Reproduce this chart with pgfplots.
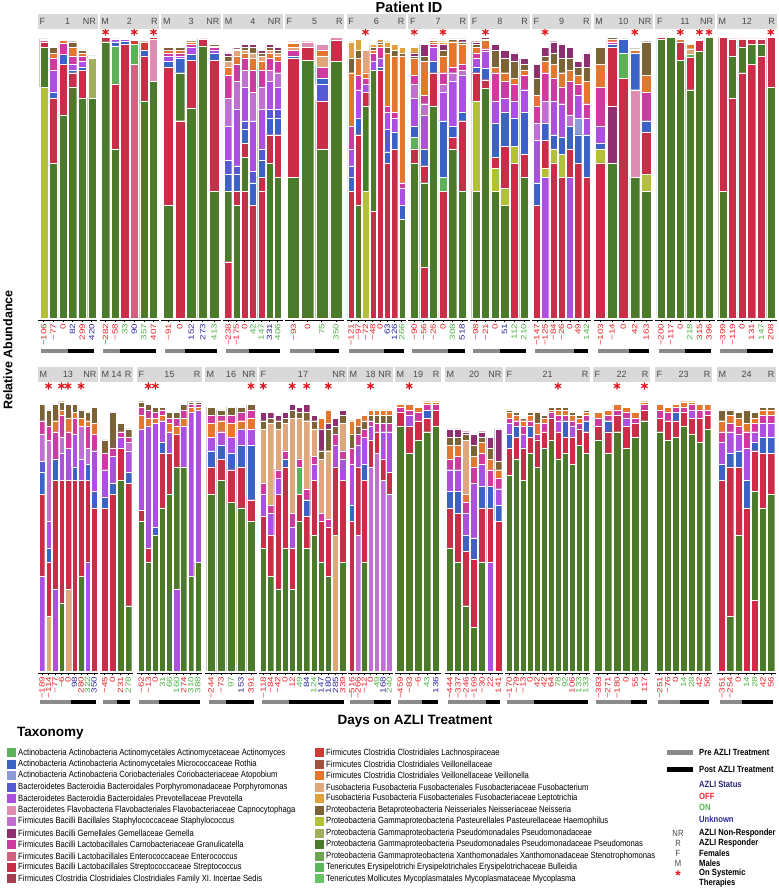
\documentclass[border=0pt]{standalone}
\usepackage{fontspec}
\setmainfont{Liberation Sans}
\newfontfamily\condfam{Liberation Sans}[FakeStretch=0.85]
\newfontfamily\dayfam{Liberation Sans}[FakeStretch=1.3]
\usepackage{pgfplots}
\usepackage{pgfplotstable}
\pgfplotsset{compat=1.18}

\definecolor{cAC}{HTML}{5FB05A}\definecolor{cRO}{HTML}{3B62C4}\definecolor{cAT}{HTML}{8D9AD8}
\definecolor{cPO}{HTML}{5658D4}\definecolor{cPR}{HTML}{AD4FE0}\definecolor{cCA}{HTML}{E08DB4}
\definecolor{cSA}{HTML}{C070D0}\definecolor{cGE}{HTML}{8E2F70}\definecolor{cGR}{HTML}{CF3AA0}
\definecolor{cEN}{HTML}{D0627F}\definecolor{cST}{HTML}{C92D48}\definecolor{cFX}{HTML}{A43E4E}
\definecolor{cLA}{HTML}{CF3A36}\definecolor{cVL}{HTML}{A4503E}\definecolor{cVE}{HTML}{E5762E}
\definecolor{cFU}{HTML}{E0A67C}\definecolor{cLE}{HTML}{E0A03C}\definecolor{cNE}{HTML}{7C6337}
\definecolor{cHA}{HTML}{B4BF3A}\definecolor{cPD}{HTML}{A2B05E}\definecolor{cPS}{HTML}{4B7A2A}
\definecolor{cSM}{HTML}{6CA452}\definecolor{cBU}{HTML}{5CB85C}\definecolor{cMY}{HTML}{66C466}
\colorlet{cST1}{cST}\colorlet{cPR1}{cPR}\colorlet{cSA1}{cSA}\colorlet{cFU1}{cFU}
\colorlet{cPK}{cEN}\colorlet{cHA2}{cHA}\colorlet{cGE1}{cGE}\colorlet{cG2}{cAC}
\definecolor{offc}{HTML}{E8262B}\definecolor{onc}{HTML}{52B448}\definecolor{unkc}{HTML}{2E2A9C}
\definecolor{starc}{HTML}{E0161E}\definecolor{prec}{HTML}{8A8A8A}\definecolor{stripc}{HTML}{D9D9D9}
\definecolor{stripfg}{HTML}{4A4A4A}\definecolor{navy}{HTML}{272770}

\newcommand\oF[1]{\textcolor{offc}{#1}}
\newcommand\oN[1]{\textcolor{onc}{#1}}
\newcommand\uK[1]{\textcolor{unkc}{#1}}
\newcommand\dayfont{\dayfam\fontsize{7.6}{8}\selectfont}
\newcommand\ytfont{\bfseries\fontsize{10}{11}\selectfont}
\newcommand\lgt{\condfam\fontsize{9}{10}\selectfont}
\newcommand\lgb{\condfam\bfseries\fontsize{9}{10}\selectfont}

\pgfplotsset{
 T/.style={at={(#1,570pt)},ymin=-0.007,ymax=1.025},
 B/.style={at={(#1,217pt)},ymin=-0.0074,ymax=1.0625},
 base/.style={anchor=south west,scale only axis,height=291pt},
 bars/.style={base,ybar stacked,bar width=0.86,axis x line*=bottom,axis y line=none,
   x axis line style={line width=0.9pt},tick align=outside,major tick length=2.5pt,
   tick style={black,line width=0.6pt},ytick=\empty,
   xticklabel style={rotate=90,anchor=east,font=\dayfont,inner sep=1pt},
   every axis plot/.append style={draw=white,line width=0.2pt}},
 ylab/.style={axis y line*=left,y axis line style={line width=0.9pt},ytick={0,0.25,0.5,0.75,1},
   yticklabels={0.00,0.25,0.50,0.75,1.00},yticklabel style={font=\ytfont,inner sep=1.5pt}},
 deco/.style={base,hide axis,clip=false},
 preline/.style={draw=prec,line width=4.5pt},
 postline/.style={draw=black,line width=4.5pt},
 starm/.style={only marks,mark=asterisk,mark size=3.6pt,color=starc,line width=1.2pt},
}

\newcommand\panel[8]{%
\begin{axis}[bars,#1=#2pt,width=#3pt,xmin=0.4,xmax=#4.6,xtick={1,...,#4},xticklabels={#7},#8]
\pgfplotsinvokeforeach{#6}{\addplot[fill=c##1] table[x=x,y=##1]{#5};}
\end{axis}}
\newcommand\deco[7]{%
\begin{axis}[deco,#1=#2pt,width=#3pt,xmin=0.4,xmax=#4.6]
\addplot[preline] coordinates {(0.75,#6) (#5,#6)};
\addplot[postline] coordinates {(#5,#6) (#4.25,#6)};
#7
\end{axis}}
\tikzset{stript/.style={inner sep=0pt,text=stripfg,font=\fontsize{9}{10}\selectfont}}
\newcommand\strip[6]{%
\fill[stripc] (#1pt,#3pt) rectangle ++(#2pt,15pt);
\node[stript,anchor=west] at ({#1pt+1.5pt},{#3pt+7.5pt}) {#4};
\node[stript] at ({#1pt+0.5*#2pt},{#3pt+7.5pt}) {#5};
\node[stript,anchor=east] at ({#1pt+#2pt-1.5pt},{#3pt+7.5pt}) {#6};}

% ---------------- data (relative abundance, stacked bottom to top) ----------------
\pgfplotstableread{
x HA PS ST PD RO PR GR VE NE
1 0.82 0.14 0.02 0 0 0 0.005 0 0.005
2 0 0.55 0.23 0 0.02 0.08 0.04 0.02 0.02
3 0 0.72 0.18 0 0.035 0 0.04 0.01 0
4 0 0.82 0.05 0 0.01 0.02 0.03 0.03 0.02
5 0 0.78 0.10 0 0.01 0.02 0.02 0.01 0.01
6 0 0.78 0 0.14 0 0 0 0.005 0.005
}\tA
\pgfplotstableread{
x PK ST1 PS ST G2 CA RO PR LA
1 0 0 0.98 0.015 0 0 0 0 0
2 0 0 0.60 0.23 0.135 0 0.015 0.01 0
3 0 0.97 0 0 0 0 0.012 0.006 0
4 0.90 0 0 0 0.07 0 0 0 0.015
5 0 0 0.77 0.16 0 0 0.02 0 0.03
6 0 0 0.84 0 0 0.15 0 0 0.005
}\tB
\pgfplotstableread{
x ST1 PS ST RO PR GR VE NE
1 0 0.40 0.49 0.02 0.02 0.01 0.01 0.01
2 0.70 0.17 0 0.05 0.01 0.01 0.01 0.01
3 0 0.745 0.17 0.02 0.025 0.01 0.01 0.005
4 0 0.965 0.025 0 0 0 0 0
5 0 0.45 0.465 0.025 0.01 0.01 0.005 0.005
}\tC
\pgfplotstableread{
x ST1 PS ST RO PO PR SA GR VE FU NE GE
1 0.20 0.25 0 0.06 0.05 0.12 0.10 0.08 0.03 0.02 0.02 0.01
2 0 0.40 0.05 0.06 0.03 0.20 0.10 0.06 0.03 0.02 0.005 0.005
3 0.45 0.12 0.05 0.05 0.03 0.12 0.06 0.04 0.02 0.01 0.01 0.01
4 0.40 0 0 0.08 0.04 0.18 0.10 0.08 0.04 0.02 0.02 0.01
5 0.45 0 0.05 0.06 0.04 0.14 0.08 0.06 0.03 0.02 0.01 0.01
6 0 0.55 0.10 0.06 0.03 0.10 0.04 0.04 0.02 0.01 0.01 0.01
7 0 0.50 0.15 0.06 0.03 0.08 0.05 0.04 0.02 0.01 0.01 0.01
}\tD
\pgfplotstableread{
x PS ST PO RO GR FU VE CA
1 0.50 0.42 0 0.01 0.02 0.01 0.015 0.005
2 0.915 0.045 0 0 0 0 0 0.02
3 0.60 0.17 0.06 0.02 0.04 0.04 0.02 0.02
4 0.91 0.075 0 0 0 0 0 0.01
}\tE
\pgfplotstableread{
x HA ST1 PS ST RO PO PR GR VE FU NE LE
1 0 0.45 0 0 0.05 0.04 0.06 0.08 0.19 0 0.05 0.06
2 0 0 0.40 0.25 0.06 0 0.10 0.05 0.06 0 0.03 0.04
3 0.45 0 0.30 0.05 0 0 0.03 0.02 0.02 0.08 0 0
4 0 0.38 0.50 0 0 0 0.03 0.03 0.01 0 0.01 0.01
5 0 0.88 0 0 0.01 0 0.03 0.04 0.01 0 0.01 0.01
6 0 0.55 0 0 0.04 0.08 0.06 0.02 0.19 0 0.02 0.02
7 0 0.60 0 0 0.06 0 0.05 0.02 0.20 0 0.02 0.02
8 0 0 0.35 0 0.05 0 0.06 0.02 0.45 0 0.01 0.02
}\tF
\pgfplotstableread{
x ST1 PS ST G2 RO PR SA GR VE NE GE LE
1 0 0.55 0.05 0.04 0.04 0.10 0.05 0.03 0.06 0.01 0.01 0.02
2 0.18 0.30 0.06 0 0.06 0.12 0.04 0.03 0.12 0.02 0.04 0
3 0 0.75 0.12 0 0.04 0.05 0 0.01 0.01 0.005 0.005 0
4 0.45 0 0 0.05 0.20 0.10 0.03 0.04 0.06 0.02 0.02 0.01
5 0 0.60 0.04 0 0.04 0.16 0.03 0.02 0.09 0.01 0 0
6 0 0.45 0.25 0 0.03 0.13 0.02 0.02 0.07 0.01 0.01 0
}\tG
\pgfplotstableread{
x ST1 PS HA2 ST RO PR GR VE NE GE
1 0 0.45 0.32 0.10 0.02 0.03 0.02 0.02 0.01 0.01
2 0 0.815 0 0.03 0.04 0.06 0.01 0.03 0.005 0.005
3 0 0.45 0.08 0.04 0.12 0.08 0.10 0.02 0.06 0.02
4 0 0.40 0.06 0.15 0.12 0.05 0.06 0.03 0.05 0.03
5 0.55 0 0.06 0 0.10 0.06 0.06 0.02 0.06 0.03
6 0 0.50 0 0.08 0.15 0.08 0.05 0.02 0.02 0.02
}\tH
\pgfplotstableread{
x ST1 PR1 HA2 ST RO AT PR SA GR VE NE GE
1 0.40 0 0 0 0.08 0 0.15 0.06 0.06 0.04 0.06 0.05
2 0 0.50 0.03 0.10 0.06 0 0 0.08 0.10 0.04 0.02 0.03
3 0.55 0 0.05 0 0.05 0 0.12 0 0.08 0.05 0.04 0.04
4 0.50 0 0.08 0 0.06 0 0.12 0 0.06 0.05 0.05 0.05
5 0 0.50 0 0.10 0.08 0 0 0.04 0.12 0.04 0.04 0.04
6 0.55 0 0 0 0.10 0.06 0.08 0 0.04 0.03 0.03 0.02
7 0.50 0 0 0 0.15 0 0.06 0 0.05 0.08 0.05 0.05
}\tI
\pgfplotstableread{
x ST1 PS HA2 GE1 ST G2 CA RO PR GR VE NE
1 0.55 0 0.05 0 0 0 0 0.02 0.06 0.14 0.08 0.06
2 0 0.55 0 0.20 0.21 0 0 0.01 0 0.01 0.01 0.005
3 0.85 0 0 0 0 0.09 0 0.05 0 0 0 0
4 0 0.50 0 0 0 0 0.31 0.13 0 0 0.01 0.005
5 0 0.45 0.06 0 0.15 0 0 0.04 0 0.10 0.06 0.12
}\tJ
\pgfplotstableread{
x PS ST G2 FU VE
1 0.99 0.005 0 0 0
2 0.995 0 0 0 0
3 0.915 0.065 0 0 0.01
4 0.81 0.115 0.01 0.02 0.015
5 0.945 0.04 0 0 0.005
6 0.995 0 0 0 0
}\tK
\pgfplotstableread{
x ST1 PS ST
1 0 0.45 0.545
2 0.78 0.15 0.06
3 0.87 0.09 0.03
4 0.90 0.07 0.02
5 0.93 0.04 0.02
6 0 0.82 0.175
}\tL
\pgfplotstableread{
x ST1 PR1 FU1 PS ST RO PO PR SA GR VE NE
1 0 0.35 0 0 0.30 0.08 0.04 0 0.10 0.05 0 0.06
2 0 0 0.20 0 0.20 0.05 0 0.10 0.30 0.05 0 0.06
3 0 0.30 0 0 0.40 0.08 0 0 0 0.10 0.04 0.06
4 0 0 0 0.25 0.45 0 0 0.10 0.06 0.08 0.02 0.03
5 0 0 0.30 0 0.40 0 0 0.12 0 0.06 0.05 0.05
6 0.70 0 0 0 0 0.05 0 0.12 0 0.06 0.02 0.03
7 0 0 0 0.35 0.35 0 0 0.08 0.12 0 0.03 0.03
8 0 0.40 0 0 0.30 0.06 0 0 0.06 0.08 0.02 0.03
9 0.60 0 0 0 0 0.06 0 0.15 0 0.06 0.04 0.06
}\tM
\pgfplotstableread{
x ST1 PS ST RO PR SA GR NE
1 0.60 0 0 0.04 0.10 0 0.06 0.05
2 0.65 0 0 0.04 0.10 0 0.03 0.13
3 0 0.70 0.12 0 0.04 0 0.02 0.03
4 0 0.24 0.45 0.04 0.08 0.03 0.02 0.03
}\tN
\pgfplotstableread{
x PR1 PS ST RO PR VE GR NE
1 0 0.55 0.04 0 0.30 0.05 0.03 0.02
2 0 0.40 0.05 0 0.45 0.03 0.03 0.02
3 0 0.50 0 0.03 0.38 0.02 0.02 0.02
4 0 0.60 0.20 0.04 0.08 0.02 0.02 0.01
5 0 0.65 0.15 0 0.08 0.03 0.02 0.02
6 0.30 0.45 0.12 0 0 0.03 0.03 0.02
7 0 0.75 0 0 0.15 0.03 0.03 0.02
8 0 0.35 0 0 0.60 0.02 0.01 0.01
9 0 0.40 0 0 0.56 0.01 0.01 0.01
}\tO
\pgfplotstableread{
x PS ST RO PR VE GR NE
1 0.65 0.10 0.06 0.05 0.05 0.03 0.03
2 0.70 0.08 0.05 0.05 0.04 0.02 0.02
3 0.62 0.12 0.06 0.06 0.05 0.03 0.03
4 0.60 0.15 0.08 0.06 0.03 0.03 0.02
5 0.55 0.08 0.20 0.06 0.04 0.03 0.02
}\tP
\pgfplotstableread{
x FU1 PS ST G2 RO PR GR FU NE GE VE
1 0 0.45 0.12 0 0 0.08 0.04 0.20 0.03 0.03 0
2 0 0.35 0.15 0 0 0.08 0.03 0.30 0.02 0.02 0
3 0 0.30 0.35 0 0 0.06 0.03 0.15 0.03 0.02 0
4 0 0.45 0.30 0 0.03 0 0.03 0.10 0.02 0.02 0
5 0 0.30 0.15 0 0 0.08 0.05 0.35 0.03 0.02 0
6 0 0.55 0.10 0.10 0 0 0.03 0.15 0.02 0.02 0
7 0 0.45 0.12 0 0.06 0 0.04 0.25 0.03 0.03 0
8 0 0.50 0.20 0 0 0.06 0.03 0.10 0.03 0.02 0
9 0 0.40 0.15 0 0 0 0.03 0.20 0.03 0.08 0.04
10 0 0.35 0.18 0 0 0 0.03 0.25 0.08 0.02 0.05
11 0.50 0 0.25 0 0 0.08 0.04 0 0.03 0.03 0
12 0 0.40 0.30 0 0 0.08 0.03 0.10 0.03 0.02 0
}\tQ
\pgfplotstableread{
x ST1 SA1 PS ST RO PR GR NE VE
1 0.55 0 0 0 0.06 0.15 0.06 0.05 0.05
2 0 0.50 0 0.25 0 0.08 0.04 0.03 0.03
3 0 0 0.40 0.30 0.06 0.10 0.03 0.03 0.02
4 0 0.75 0 0.10 0 0.05 0.02 0.02 0.02
5 0 0.80 0 0.08 0 0 0.03 0.03 0.02
6 0 0.70 0 0.08 0 0.10 0.03 0.03 0.02
7 0 0.65 0 0.08 0 0.15 0.03 0.03 0.02
}\tR
\pgfplotstableread{
x PS ST RO PR GR VE
1 0.90 0.05 0 0 0.02 0.01
2 0.80 0.10 0 0.04 0.02 0.02
3 0.85 0.07 0 0 0.03 0.02
4 0.88 0.05 0.03 0 0.02 0.01
5 0.90 0.06 0 0 0.02 0.01
}\tS
\pgfplotstableread{
x ST1 PR1 PS ST RO PR GR VE FU NE GE
1 0 0 0.45 0.15 0.06 0.08 0.04 0.05 0 0.03 0.03
2 0 0 0.40 0.18 0.08 0.08 0.05 0.04 0 0.03 0.03
3 0 0 0.24 0.20 0.06 0.08 0.04 0.03 0.20 0.02 0.01
4 0 0 0.16 0.25 0.08 0.20 0.06 0.04 0 0.04 0.04
5 0 0 0.40 0.20 0.08 0.08 0.04 0.04 0 0.02 0.02
6 0 0.40 0 0.20 0.08 0 0.06 0.04 0 0.04 0.04
7 0.55 0 0 0 0.06 0.06 0.04 0.03 0 0.03 0.12
}\tT
\pgfplotstableread{
x PS ST RO PR GR VE NE
1 0.72 0.10 0.05 0.04 0.02 0.02 0.01
2 0.78 0.08 0.04 0 0.02 0.02 0.01
3 0.70 0.12 0 0.05 0.03 0.02 0.01
4 0.80 0.06 0.04 0 0.02 0.02 0.01
5 0.75 0.10 0 0 0.02 0.04 0.04
6 0.82 0.06 0 0 0.03 0.02 0.01
7 0.85 0.08 0 0 0.02 0.01 0.01
8 0.78 0.10 0 0.04 0.02 0.02 0.01
9 0.80 0.06 0.06 0 0.02 0.02 0.01
10 0.76 0.10 0 0.04 0.02 0.02 0.01
11 0.83 0.06 0 0 0.02 0.02 0.01
12 0.80 0.08 0.04 0 0.02 0.01 0.01
}\tU
\pgfplotstableread{
x PS ST RO PR GR VE
1 0.85 0.05 0 0 0.03 0.02
2 0.80 0.08 0.04 0 0.02 0.02
3 0.88 0.06 0 0 0.02 0.02
4 0.82 0.08 0 0.03 0.02 0.02
5 0.86 0.05 0 0 0.02 0.02
6 0.92 0.04 0 0 0.02 0.01
}\tV
\pgfplotstableread{
x PS ST RO PR GR VE
1 0.88 0.05 0 0 0.03 0.02
2 0.85 0.07 0 0 0.03 0.02
3 0.86 0.06 0.03 0 0.02 0.01
4 0.90 0.05 0 0 0.02 0.02
5 0.87 0.06 0 0.03 0.02 0.01
6 0.84 0.09 0 0 0.03 0.02
7 0.89 0.05 0 0 0.02 0.02
}\tW
\pgfplotstableread{
x ST1 PS ST RO PR GR VE NE
1 0.70 0 0 0.06 0.08 0.04 0.04 0.04
2 0 0.20 0.55 0.05 0.08 0.03 0.03 0.02
3 0 0.50 0.25 0.06 0.06 0.03 0.03 0.02
4 0.60 0 0 0.10 0.12 0.06 0.03 0.05
5 0.26 0.40 0.15 0.03 0.04 0.03 0.02 0.02
6 0 0.60 0.20 0.06 0.05 0.03 0.02 0.01
7 0 0.65 0.15 0.06 0.05 0.03 0.02 0.01
}\tX

\begin{document}
\begin{tikzpicture}
\useasboundingbox (0,0) rectangle (778pt,890pt);
% ---------- top row ----------
\panel{T}{38}{59.5}{6}{\tA}{HA,PS,ST,PD,RO,PR,GR,VE,NE}{\oF{−106},\oF{−77},\oF{0},\uK{82},\oF{299},\uK{420}}{ylab}
\panel{T}{99.73}{59.5}{6}{\tB}{PK,ST1,PS,ST,G2,CA,RO,PR,LA}{\oF{−282},\oF{−58},\oN{33},\uK{90},\oN{357},\oF{407}}{}
\panel{T}{161.46}{59.5}{5}{\tC}{ST1,PS,ST,RO,PR,GR,VE,NE}{\oF{−91},\oF{0},\uK{152},\uK{273},\oN{413}}{}
\panel{T}{223.19}{59.5}{7}{\tD}{ST1,PS,ST,RO,PO,PR,SA,GR,VE,FU,NE,GE}{\oF{−238},\oF{−175},\oF{0},\oN{42},\oN{147},\uK{331},\oN{406}}{}
\panel{T}{284.92}{59.5}{4}{\tE}{PS,ST,PO,RO,GR,FU,VE,CA}{\oF{−93},\oF{0},\oN{75},\oN{350}}{}
\panel{T}{346.65}{59.5}{8}{\tF}{HA,ST1,PS,ST,RO,PO,PR,GR,VE,FU,NE,LE}{\oF{−121},\oF{−97},\oF{−72},\oF{−48},\oF{0},\uK{63},\uK{126},\oN{266}}{}
\panel{T}{408.38}{59.5}{6}{\tG}{ST1,PS,ST,G2,RO,PR,SA,GR,VE,NE,GE,LE}{\oF{−90},\oF{−56},\oF{−26},\oF{0},\oN{308},\uK{518}}{}
\panel{T}{470.11}{59.5}{6}{\tH}{ST1,PS,HA2,ST,RO,PR,GR,VE,NE,GE}{\oF{−98},\oF{−21},\oF{0},\uK{51},\oN{112},\oN{210}}{}
\panel{T}{531.84}{59.5}{7}{\tI}{ST1,PR1,HA2,ST,RO,AT,PR,SA,GR,VE,NE,GE}{\oF{−147},\oF{−125},\oF{−84},\oF{−26},\oF{0},\oF{49},\oN{142}}{}
\panel{T}{593.57}{59.5}{5}{\tJ}{ST1,PS,HA2,GE1,ST,G2,CA,RO,PR,GR,VE,NE}{\oF{−103},\oF{−14},\oF{0},\oF{42},\oF{163}}{}
\panel{T}{655.3}{59.5}{6}{\tK}{PS,ST,G2,FU,VE}{\oF{−200},\oF{−117},\oF{0},\oN{218},\oF{315},\oF{396}}{}
\panel{T}{717.03}{59.5}{6}{\tL}{ST1,PS,ST}{\oF{−399},\oF{−119},\oF{0},\oF{131},\oN{147},\oF{208}}{}
% ---------- bottom row ----------
\panel{B}{38}{60}{9}{\tM}{ST1,PR1,FU1,PS,ST,RO,PO,PR,SA,GR,VE,NE}{\oF{−189},\oF{−114},\oF{−77},\oF{−6},\oF{0},\uK{98},\oF{280},\oN{322},\uK{350}}{ylab}
\panel{B}{100}{33}{4}{\tN}{ST1,PS,ST,RO,PR,SA,GR,NE}{\oF{−45},\oF{0},\oF{231},\oN{278}}{}
\panel{B}{137}{65}{9}{\tO}{PR1,PS,ST,RO,PR,VE,GR,NE}{\oF{−62},\oF{−13},\oF{0},\oN{31},\oN{66},\oN{160},\oF{274},\oN{310},\oN{388}}{}
\panel{B}{205}{52}{5}{\tP}{PS,ST,RO,PR,VE,GR,NE}{\oF{−244},\oF{−73},\oN{97},\uK{153},\oF{391}}{}
\panel{B}{259}{88}{12}{\tQ}{FU1,PS,ST,G2,RO,PR,GR,FU,NE,GE,VE}{\oF{−118},\oF{−84},\oF{−42},\oF{0},\oF{12},\oN{49},\uK{84},\oN{124},\uK{147},\uK{180},\uK{285},\oF{339}}{}
\panel{B}{348}{45}{7}{\tR}{ST1,SA1,PS,ST,RO,PR,GR,NE,VE}{\oF{−516},\oF{−266},\oF{−12},\oF{0},\oN{49},\uK{168},\oN{240}}{}
\panel{B}{395}{46}{5}{\tS}{PS,ST,RO,PR,GR,VE}{\oF{−459},\oF{−83},\oF{−6},\oN{43},\uK{136}}{}
\panel{B}{445}{58}{7}{\tT}{ST1,PR1,PS,ST,RO,PR,GR,VE,FU,NE,GE}{\oF{−444},\oF{−337},\oF{−246},\oF{−169},\oF{−30},\oF{22},\oF{141}}{}
\panel{B}{505}{85}{12}{\tU}{PS,ST,RO,PR,GR,VE,NE}{\oF{−170},\oF{−79},\oF{−13},\oF{0},\oF{42},\oF{42},\oF{64},\oN{78},\oN{92},\oF{106},\oN{133},\oN{133}}{}
\panel{B}{593}{57}{6}{\tV}{PS,ST,RO,PR,GR,VE}{\oF{−383},\oF{−271},\oF{−180},\oF{0},\oF{55},\oF{117}}{}
\panel{B}{655}{57}{7}{\tW}{PS,ST,RO,PR,GR,VE}{\oF{−251},\oF{−76},\oF{0},\oN{14},\oN{28},\oF{42},\oF{56}}{}
\panel{B}{717}{59}{7}{\tX}{ST1,PS,ST,RO,PR,GR,VE,NE}{\oF{−351},\oF{−254},\oF{0},\oN{14},\oN{28},\oF{42},\oF{56}}{}
% ---------- treatment bars and systemic-therapy stars ----------
\deco{T}{38}{59.5}{6}{3.5}{-0.117}{}
\deco{T}{99.73}{59.5}{6}{2.5}{-0.117}{\addplot[starm] coordinates {(1,1.014)(4,1.014)(6,1.014)};}
\deco{T}{161.46}{59.5}{5}{2.5}{-0.117}{}
\deco{T}{223.19}{59.5}{7}{3.5}{-0.117}{}
\deco{T}{284.92}{59.5}{4}{2.5}{-0.117}{}
\deco{T}{346.65}{59.5}{8}{5.5}{-0.117}{\addplot[starm] coordinates {(3,1.014)};}
\deco{T}{408.38}{59.5}{6}{4.5}{-0.117}{\addplot[starm] coordinates {(1,1.014)(4,1.014)};}
\deco{T}{470.11}{59.5}{6}{3.5}{-0.117}{\addplot[starm] coordinates {(2,1.014)};}
\deco{T}{531.84}{59.5}{7}{5.5}{-0.117}{\addplot[starm] coordinates {(2,1.014)};}
\deco{T}{593.57}{59.5}{5}{3.5}{-0.117}{\addplot[starm] coordinates {(4,1.014)};}
\deco{T}{655.3}{59.5}{6}{3.5}{-0.117}{\addplot[starm] coordinates {(3,1.014)(5,1.014)(6,1.014)};}
\deco{T}{717.03}{59.5}{6}{3.5}{-0.117}{\addplot[starm] coordinates {(6,1.014)};}
\deco{B}{38}{60}{9}{5.5}{-0.114}{\addplot[starm] coordinates {(2,1.048)(4,1.048)(5,1.048)(7,1.048)};}
\deco{B}{100}{33}{4}{2.5}{-0.114}{}
\deco{B}{137}{65}{9}{3.5}{-0.114}{\addplot[starm] coordinates {(2,1.048)(3,1.048)};}
\deco{B}{205}{52}{5}{2.5}{-0.114}{\addplot[starm] coordinates {(5,1.048)};}
\deco{B}{259}{88}{12}{4.5}{-0.114}{\addplot[starm] coordinates {(1,1.048)(5,1.048)(7,1.048)(10,1.048)};}
\deco{B}{348}{45}{7}{4.5}{-0.114}{\addplot[starm] coordinates {(4,1.048)};}
\deco{B}{395}{46}{5}{3.5}{-0.114}{\addplot[starm] coordinates {(2,1.048)};}
\deco{B}{445}{58}{7}{5.5}{-0.114}{}
\deco{B}{505}{85}{12}{4.5}{-0.114}{\addplot[starm] coordinates {(8,1.048)};}
\deco{B}{593}{57}{6}{4.5}{-0.114}{\addplot[starm] coordinates {(3,1.048)(6,1.048)};}
\deco{B}{655}{57}{7}{3.5}{-0.114}{}
\deco{B}{717}{59}{7}{3.5}{-0.114}{}
% ---------- facet strips ----------
\strip{38}{59.5}{861}{F}{1}{NR}\strip{99.73}{59.5}{861}{M}{2}{R}\strip{161.46}{59.5}{861}{M}{3}{NR}
\strip{223.19}{59.5}{861}{M}{4}{NR}\strip{284.92}{59.5}{861}{F}{5}{R}\strip{346.65}{59.5}{861}{F}{6}{R}
\strip{408.38}{59.5}{861}{F}{7}{R}\strip{470.11}{59.5}{861}{F}{8}{R}\strip{531.84}{59.5}{861}{F}{9}{R}
\strip{593.57}{59.5}{861}{M}{10}{NR}\strip{655.3}{59.5}{861}{F}{11}{NR}\strip{717.03}{59.5}{861}{M}{12}{R}
\strip{38}{60}{508}{M}{13}{NR}\strip{100}{33}{508}{M}{14}{R}\strip{137}{65}{508}{F}{15}{R}
\strip{205}{52}{508}{M}{16}{NR}\strip{259}{88}{508}{F}{17}{NR}\strip{348}{45}{508}{M}{18}{NR}
\strip{395}{46}{508}{M}{19}{R}\strip{445}{58}{508}{M}{20}{NR}\strip{505}{85}{508}{F}{21}{R}
\strip{593}{57}{508}{F}{22}{R}\strip{655}{57}{508}{F}{23}{R}\strip{717}{59}{508}{M}{24}{R}
% ---------- titles ----------
\node[font=\bfseries\fontsize{14.5}{16}\selectfont] at (409pt,883pt) {Patient ID};
\node[font=\bfseries\fontsize{13.5}{15}\selectfont] at (415pt,168.3pt) {Days on AZLI Treatment};
\node[rotate=90,font=\bfseries\fontsize{12.5}{14}\selectfont] at (8pt,540pt) {Relative Abundance};
\node[anchor=west,font=\bfseries\fontsize{13.5}{15}\selectfont,inner sep=0pt] at (17pt,157pt) {Taxonomy};
% ---------- taxonomy legend ----------
\foreach \c/\t [count=\i from 0] in {
 cAC/Actinobacteria Actinobacteria Actinomycetales Actinomycetaceae Actinomyces,
 cRO/Actinobacteria Actinobacteria Actinomycetales Micrococcaceae Rothia,
 cAT/Actinobacteria Actinobacteria Coriobacteriales Coriobacteriaceae Atopobium,
 cPO/Bacteroidetes Bacteroidia Bacteroidales Porphyromonadaceae Porphyromonas,
 cPR/Bacteroidetes Bacteroidia Bacteroidales Prevotellaceae Prevotella,
 cCA/Bacteroidetes Flavobacteria Flavobacteriales Flavobacteriaceae Capnocytophaga,
 cSA/Firmicutes Bacilli Bacillales Staphylococcaceae Staphylococcus,
 cGE/Firmicutes Bacilli Gemellales Gemellaceae Gemella,
 cGR/Firmicutes Bacilli Lactobacillales Carnobacteriaceae Granulicatella,
 cEN/Firmicutes Bacilli Lactobacillales Enterococcaceae Enterococcus,
 cST/Firmicutes Bacilli Lactobacillales Streptococcaceae Streptococcus,
 cFX/Firmicutes Clostridia Clostridiales Clostridiales Family XI. Incertae Sedis}{
 \pgfmathsetmacro\yy{137.3-11.48*\i}
 \fill[\c] (7pt,\yy pt) ++(0,-4.5pt) rectangle ++(9pt,9pt);
 \node[anchor=west,inner sep=0pt,font=\lgt] at (18pt,\yy pt) {\t};
}
\foreach \c/\t [count=\i from 0] in {
 cLA/Firmicutes Clostridia Clostridiales Lachnospiraceae,
 cVL/Firmicutes Clostridia Clostridiales Veillonellaceae,
 cVE/Firmicutes Clostridia Clostridiales Veillonellaceae Veillonella,
 cFU/Fusobacteria Fusobacteria Fusobacteriales Fusobacteriaceae Fusobacterium,
 cLE/Fusobacteria Fusobacteria Fusobacteriales Fusobacteriaceae Leptotrichia,
 cNE/Proteobacteria Betaproteobacteria Neisseriales Neisseriaceae Neisseria,
 cHA/Proteobacteria Gammaproteobacteria Pasteurellales Pasteurellaceae Haemophilus,
 cPD/Proteobacteria Gammaproteobacteria Pseudomonadales Pseudomonadaceae,
 cPS/Proteobacteria Gammaproteobacteria Pseudomonadales Pseudomonadaceae Pseudomonas,
 cSM/Proteobacteria Gammaproteobacteria Xanthomonadales Xanthomonadaceae Stenotrophomonas,
 cBU/Tenericutes Erysipelotrichi Erysipelotrichales Erysipelotrichaceae Bulleidia,
 cMY/Tenericutes Mollicutes Mycoplasmatales Mycoplasmataceae Mycoplasma}{
 \pgfmathsetmacro\yy{137.3-11.48*\i}
 \fill[\c] (315pt,\yy pt) ++(0,-4.5pt) rectangle ++(9pt,9pt);
 \node[anchor=west,inner sep=0pt,font=\lgt] at (326pt,\yy pt) {\t};
}
% ---------- other legend ----------
\draw[line width=4.5pt,prec] (667pt,137.3pt) -- (693pt,137.3pt);
\node[anchor=west,inner sep=0pt,font=\lgb] at (699pt,137.3pt) {Pre AZLI Treatment};
\draw[line width=4.5pt,black] (667pt,120.5pt) -- (693pt,120.5pt);
\node[anchor=west,inner sep=0pt,font=\lgb] at (699pt,120.5pt) {Post AZLI Treatment};
\node[anchor=west,inner sep=0pt,font=\lgb,text=navy] at (699pt,106pt) {AZLI Status};
\node[anchor=west,inner sep=0pt,font=\lgb,text=offc] at (699pt,94pt) {OFF};
\node[anchor=west,inner sep=0pt,font=\lgb,text=onc] at (699pt,82.5pt) {ON};
\node[anchor=west,inner sep=0pt,font=\lgb,text=unkc] at (699pt,71pt) {Unknown};
\foreach \s/\t/\y in {NR/AZLI Non-Responder/57, R/AZLI Responder/47, F/Females/37, M/Males/27}{
 \node[inner sep=0pt,font=\lgt,text=stripfg] at (678pt,\y pt) {\s};
 \node[anchor=west,inner sep=0pt,font=\lgb] at (699pt,\y pt) {\t};
}
\node[inner sep=0pt,font=\bfseries\fontsize{14}{14}\selectfont,text=starc] at (678pt,14pt) {*};
\node[anchor=west,inner sep=0pt,font=\lgb] at (699pt,17pt) {On Systemic};
\node[anchor=west,inner sep=0pt,font=\lgb] at (699pt,7pt) {Therapies};
\end{tikzpicture}
\end{document}
